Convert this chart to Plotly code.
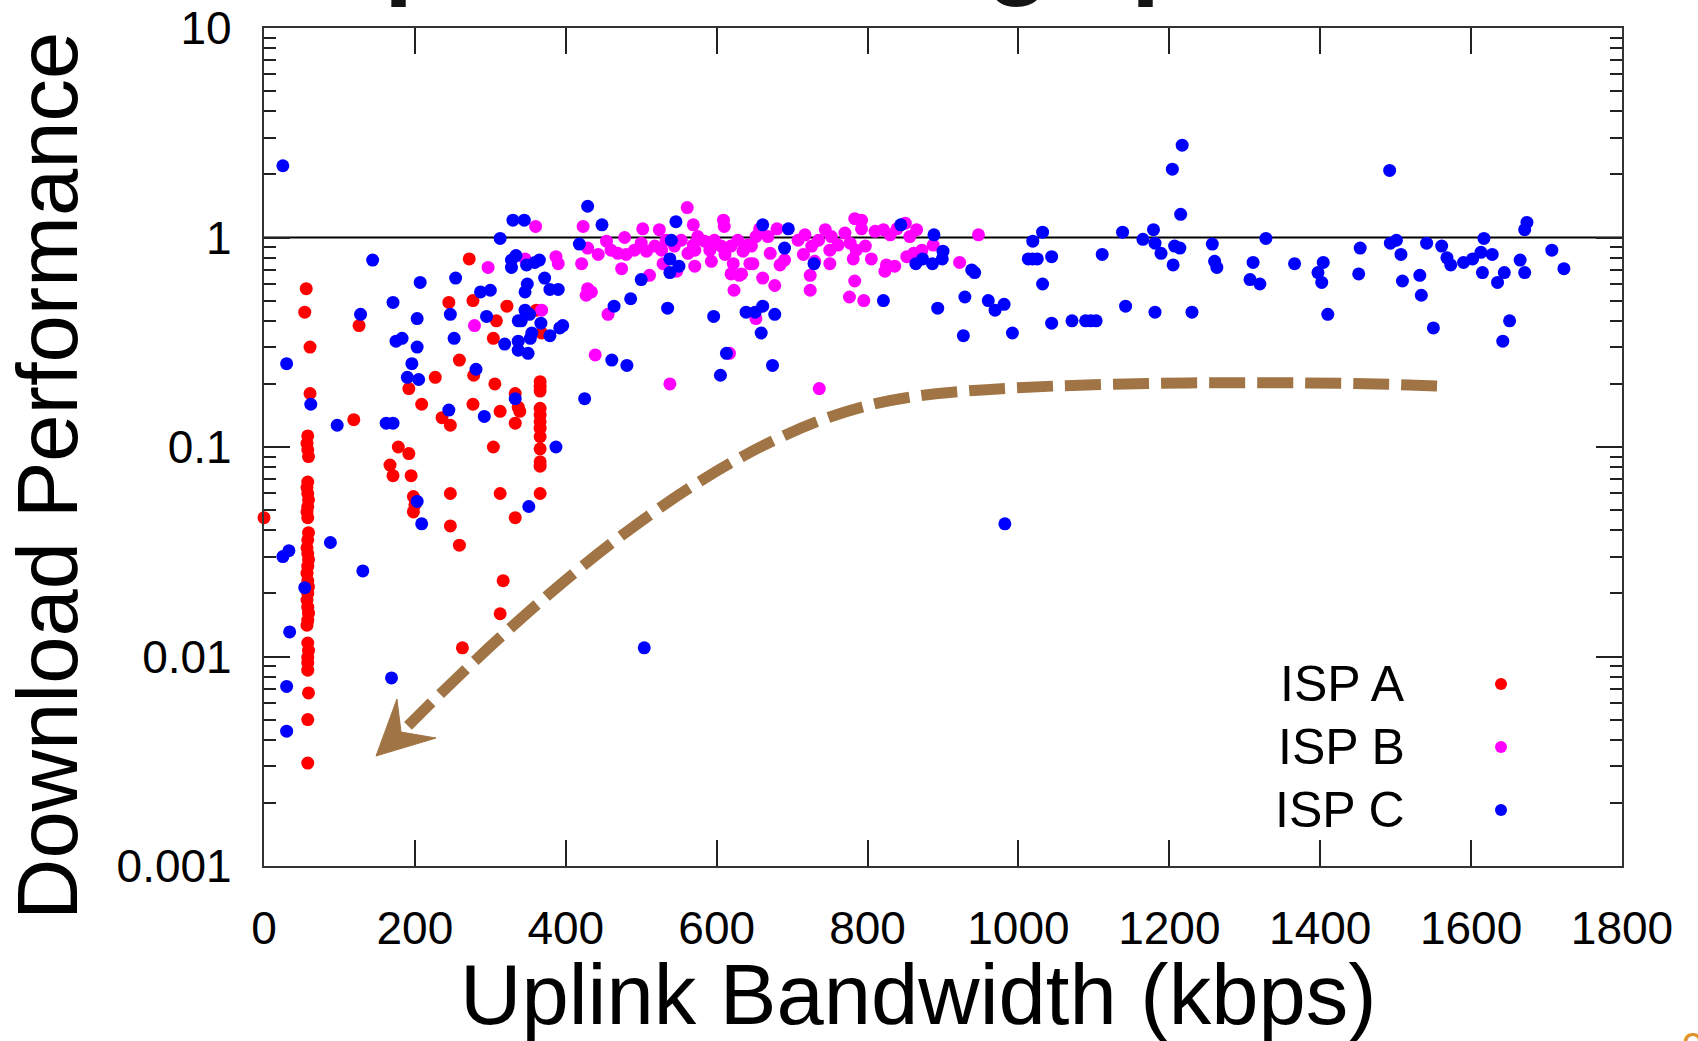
import plotly.graph_objects as go

# ---------------- data ----------------
ispA_x = [56, 54, 61, 61,
          58, 57, 58, 59, 58, 57, 58, 59, 58, 57, 58, 59, 58, 57, 58, 59, 58, 57,
          58, 59, 58, 57, 58, 59, 58, 57, 58, 59, 58, 58, 58, 59, 58, 58,
          126, 119, 178, 192, 192, 209, 227, 245, 236, 247, 259, 272, 277, 278, 277,
          308, 304, 322, 306, 313, 304, 333, 337, 339, 333, 361, 368,
          366, 366, 366, 366, 366, 366, 366, 366, 366, 366, 366, 366,
          167, 171, 195, 198, 200, 198, 247, 247, 259, 313, 333, 317, 313, 263, 0]
ispA_y = [0.57, 0.44, 0.30, 0.18,
          0.113, 0.104, 0.097, 0.090, 0.068, 0.064, 0.060, 0.056, 0.052, 0.049, 0.046,
          0.039, 0.036, 0.033, 0.031, 0.029, 0.027, 0.025, 0.023, 0.0215, 0.020, 0.0186,
          0.0172, 0.0161, 0.0149, 0.0141, 0.0116, 0.0107, 0.0099, 0.0093, 0.0086, 0.0067,
          0.0050, 0.0031,
          0.38, 0.135, 0.10, 0.093, 0.19, 0.16, 0.215, 0.49, 0.138, 0.127, 0.26, 0.79, 0.50,
          0.22, 0.16, 0.40, 0.33, 0.47, 0.20, 0.148, 0.10, 0.18, 0.155, 0.148, 0.13, 0.45, 0.35,
          0.205, 0.195, 0.185, 0.153, 0.142, 0.132, 0.123, 0.112, 0.098, 0.085, 0.081, 0.060,
          0.082, 0.073, 0.073, 0.058, 0.053, 0.049, 0.060, 0.042, 0.034, 0.060, 0.046, 0.023,
          0.016, 0.011, 0.046]

ispB_x = [360, 297, 387, 390, 368, 279, 423, 421, 429, 427, 434, 439, 456, 478, 474, 502,
          511, 524, 538, 561, 569, 571, 609, 610, 623, 617, 619, 630, 346,
          429, 443, 454, 460, 469, 480, 491, 500, 507, 518, 527, 533, 544, 553, 562, 569,
          575, 584, 591, 597, 606, 611, 619, 628, 635, 641, 648, 652, 593, 529, 547, 622,
          644, 571,
          668, 671, 680, 633, 661, 677, 652, 684, 690, 708, 717, 726, 735, 744, 752, 750,
          761, 770, 777, 783, 792, 792, 785, 797, 805, 810, 821, 830, 839, 850, 856, 865,
          861, 872, 887, 825, 836, 823, 783, 724, 724, 776, 795, 715, 730, 750, 781, 947,
          922, 736, 657, 646, 852]
ispB_y = [1.13, 0.72, 0.81, 0.75, 0.45, 0.38, 1.13, 0.75, 0.57, 0.53, 0.55, 0.275, 0.43,
          1.0, 0.71, 1.10, 0.66, 1.09, 0.20, 1.39, 1.15, 0.73, 1.21, 1.13, 0.56, 0.28, 0.67,
          0.66, 0.79,
          0.89, 0.83, 0.96, 0.87, 0.84, 0.83, 0.87, 0.94, 0.86, 0.91, 0.87, 0.97, 0.91, 0.97,
          0.84, 0.92, 1.01, 0.96, 0.87, 0.97, 0.91, 0.83, 0.91, 0.97, 0.86, 0.92, 0.75, 1.01,
          0.77, 0.75, 0.69, 0.75, 0.75, 0.87,
          1.01, 0.84, 1.10, 0.67, 0.64, 0.59, 0.41, 0.74, 0.78, 0.97, 1.03, 0.91, 0.97, 1.09,
          1.01, 0.87, 0.92, 1.05, 0.94, 1.23, 1.21, 1.10, 0.87, 0.91, 0.79, 1.07, 1.09, 1.03,
          1.10, 1.17, 1.01, 1.09, 0.84, 0.87, 0.92, 0.74, 0.73, 0.69, 0.62, 0.66, 0.56, 0.52,
          0.50, 0.83, 0.77, 0.75, 0.79, 1.03, 0.76, 0.19, 1.10, 0.91, 0.81]

ispC_x = [25, 30, 62, 97, 144, 128, 171, 175, 183, 203, 207, 203, 196, 190, 205, 162, 171,
          247, 254, 252, 281, 245, 292, 295, 287, 300, 319, 313, 330, 345, 328, 334, 328,
          348, 359, 365, 349, 346, 372, 379, 390, 346, 352, 341, 337, 367, 355, 353, 337,
          337, 350, 379, 392, 396, 333, 387, 429, 448, 418, 464, 486, 461, 481, 425, 500,
          535, 546, 540, 538, 550, 538, 596, 613, 605,
          203, 209, 351, 88, 25, 33, 131, 54, 34, 504, 169, 30, 30,
          661, 695, 690, 729, 639, 651, 661, 677, 659, 674, 844, 888, 864, 873, 886, 900,
          899, 821, 893, 938, 942, 929, 927, 960, 969, 981, 992, 1019, 1032, 1013, 1019,
          1025, 1044, 1032, 1044, 1071, 1089, 1096, 1103, 1111, 1138, 1142, 1165, 1179,
          1181, 1189, 1181, 1204, 1217, 1215, 1207, 1214, 1205, 1230, 1257, 1260, 1263, 982,
          1307, 1320, 1311, 1328, 1366, 1397, 1402, 1404, 1410, 1453, 1451, 1492, 1493, 1501,
          1507, 1509, 1532, 1534, 1541, 1550, 1561, 1568, 1573, 1590, 1602, 1613, 1617, 1628,
          1615, 1635, 1644, 1651, 1642, 1665, 1671, 1671, 1674, 1707, 1723]
ispC_y = [2.2, 0.25, 0.16, 0.127, 0.78, 0.43, 0.49, 0.32, 0.33, 0.41, 0.61, 0.30, 0.25,
          0.215, 0.21, 0.13, 0.13, 0.43, 0.64, 0.33, 0.235, 0.15, 0.14, 0.42, 0.55, 0.56,
          0.31, 0.99, 1.21, 1.21, 0.78, 0.82, 0.72, 0.74, 0.76, 0.78, 0.60, 0.55, 0.64, 0.565,
          0.565, 0.45, 0.43, 0.40, 0.40, 0.39, 0.35, 0.33, 0.32, 0.29, 0.28, 0.34, 0.37, 0.38,
          0.17, 0.10, 1.41, 1.15, 0.93, 0.47, 0.51, 0.26, 0.245, 0.17, 0.63, 0.46, 1.19, 0.97,
          0.79, 0.73, 0.68, 0.42, 0.28, 0.22,
          0.055, 0.043, 0.052, 0.035, 0.030, 0.032, 0.0256, 0.0213, 0.0131, 0.011, 0.0079,
          0.0072, 0.0044,
          1.15, 1.10, 0.89, 0.75, 0.44, 0.44, 0.47, 0.43, 0.35, 0.245, 1.15, 1.03, 0.75, 0.79,
          0.75, 0.86, 0.79, 0.50, 0.46, 0.70, 0.68, 0.52, 0.34, 0.50, 0.45, 0.48, 0.35, 0.96,
          1.06, 0.79, 0.79, 0.79, 0.81, 0.60, 0.39, 0.40, 0.40, 0.40, 0.40, 0.83, 1.06, 0.47,
          0.98, 1.09, 0.94, 0.84, 0.44, 2.12, 2.76, 1.29, 0.91, 0.89, 0.74, 0.44, 0.93, 0.77,
          0.72, 0.043,
          0.63, 0.60, 0.76, 0.99, 0.75, 0.68, 0.61, 0.76, 0.43, 0.89, 0.67, 2.09, 0.94, 0.97,
          0.83, 0.62, 0.66, 0.53, 0.94, 0.37, 0.91, 0.80, 0.74, 0.76, 0.79, 0.85, 0.99, 0.83,
          0.68, 0.61, 0.68, 0.40, 0.32, 0.78, 0.68, 1.09, 1.18, 0.87, 0.71]

series_names = ["ISP A", "ISP B", "ISP C"]
series_colors = ["#ff0000", "#ff00ff", "#0000ff"]

x_ticks = [0, 200, 400, 600, 800, 1000, 1200, 1400, 1600, 1800]
y_ticks = [0.001, 0.01, 0.1, 1, 10]
y_ticktext = ["0.001", "0.01", "0.1", "1", "10"]
ref_x = [0, 1800]
ref_y = [1, 1]

FONT = "Liberation Sans, Arial, Helvetica, sans-serif"

fig = go.Figure()
fig.add_trace(go.Scatter(x=ref_x, y=ref_y, mode="lines",
                         line=dict(color="black", width=2), showlegend=False,
                         hoverinfo="skip"))
for xs, ys, name, col in zip([ispA_x, ispB_x, ispC_x], [ispA_y, ispB_y, ispC_y],
                             series_names, series_colors):
    fig.add_trace(go.Scatter(x=xs, y=ys, mode="markers", name=name,
                             marker=dict(color=col, size=13, line=dict(width=0)),
                             cliponaxis=False, showlegend=False))

minor_vals = [m * 10 ** e for e in range(-3, 1) for m in range(2, 10)]

fig.update_xaxes(range=[0, 1800], tickvals=x_ticks, ticks="inside", ticklen=26,
                 tickwidth=1.5, tickcolor="#222", showline=True, linecolor="#333",
                 linewidth=2.2, mirror="ticks", showgrid=False, zeroline=False,
                 automargin=False,
                 tickfont=dict(family=FONT, size=46, color="black"),
                 ticklabelstandoff=21)
fig.update_yaxes(type="log", range=[-3, 1], tickvals=y_ticks, ticktext=y_ticktext,
                 ticks="inside", ticklen=26, tickwidth=1.5, tickcolor="#222",
                 minor=dict(tickvals=minor_vals, ticks="inside", ticklen=12,
                            tickwidth=1.5, tickcolor="#222", showgrid=False),
                 showline=True, linecolor="#333", linewidth=2.2, mirror="ticks",
                 showgrid=False, zeroline=False, automargin=False,
                 tickfont=dict(family=FONT, size=46, color="black"),
                 ticklabelstandoff=21)

W, H = 1698, 1041
L, R, T, B = 264, 76, 28, 175
pw, ph = W - L - R, H - T - B


def px(x):
    return (x - L) / pw


def py(y):
    return (H - B - y) / ph


annotations = [
    dict(text="Uplink Bandwidth (kbps)", x=px(918), y=py(994), xref="paper", yref="paper",
         xanchor="center", yanchor="middle", showarrow=False, borderpad=0,
         font=dict(family=FONT, size=85, color="black")),
    dict(text="Download Performance", x=px(47), y=py(476), xref="paper", yref="paper",
         xanchor="center", yanchor="middle", textangle=-90, showarrow=False, borderpad=0,
         font=dict(family=FONT, size=85, color="black")),
]
# legend (text left of the marker, as in the original)
legend_rows = [684, 747, 810]
shapes = []
for name, col, row in zip(series_names, series_colors, legend_rows):
    annotations.append(dict(text=name, x=px(1406), y=py(row), xref="paper", yref="paper",
                            xanchor="right", yanchor="middle", showarrow=False, borderpad=0,
                            font=dict(family=FONT, size=50, color="black")))
    shapes.append(dict(type="circle", xref="paper", yref="paper", xsizemode="pixel",
                       ysizemode="pixel", xanchor=px(1501), yanchor=py(row),
                       x0=-6, x1=6, y0=-6, y1=6, fillcolor=col, line=dict(width=0)))

# cut-off slide title fragments at the top and page number at bottom right
for ch, xx, anc in [("p", 383, "left"), ("g", 1018, "center"), ("p", 1130, "left")]:
    annotations.append(dict(text=ch, x=px(xx), y=py(8), xref="paper", yref="paper",
                            xanchor=anc, yanchor="bottom", showarrow=False, borderpad=0,
                            font=dict(family=FONT, size=105, color="#141414",
                                      weight="bold")))
annotations.append(dict(text="9", x=px(1681), y=py(1024), xref="paper", yref="paper",
                        xanchor="left", yanchor="top", showarrow=False, borderpad=0,
                        font=dict(family=FONT, size=40, color="#E0922A")))

# brown dashed arrow
ARROW = "#A07444"


def pt(x, y):
    return f"{px(x):.4f},{py(y):.4f}"


curve = ("M " + pt(1437, 386) + " C " + pt(1300, 380) + " " + pt(1005, 381) + " " +
         pt(905, 398) + " C " + pt(750, 421) + " " + pt(580, 553) + " " + pt(408, 726))
shapes.append(dict(type="path", xref="paper", yref="paper", path=curve,
                   line=dict(color=ARROW, width=11, dash="36px,12px")))
head = ("M " + pt(376, 756) + " L " + pt(397, 699) + " L " + pt(401, 732) + " L " +
        pt(436, 738) + " Z")
shapes.append(dict(type="path", xref="paper", yref="paper", path=head,
                   fillcolor=ARROW, line=dict(color=ARROW, width=1)))

fig.update_layout(width=W, height=H, autosize=False,
                  margin=dict(l=L, r=R, t=T, b=B, pad=0),
                  paper_bgcolor="white", plot_bgcolor="white",
                  showlegend=False, annotations=annotations, shapes=shapes)

fig.write_html("out.html", config={"displayModeBar": False})
